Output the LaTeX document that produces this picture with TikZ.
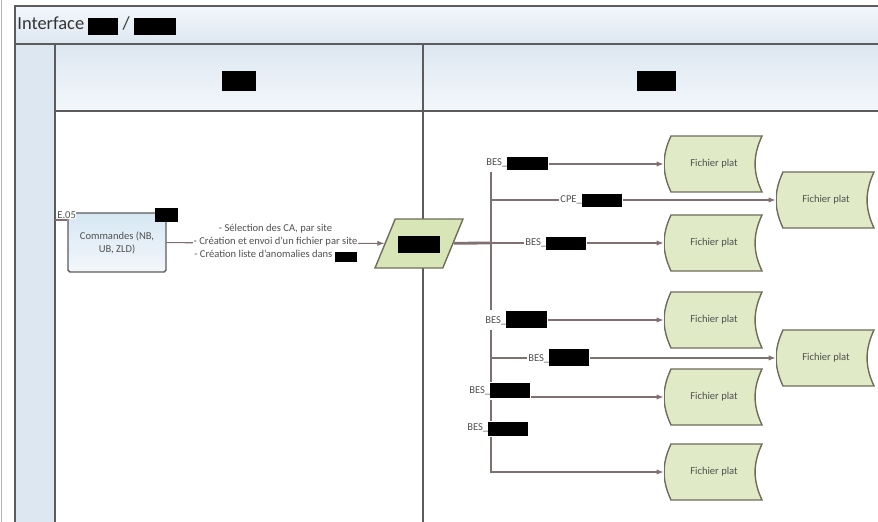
\documentclass[tikz,border=0pt]{standalone}
\usepackage{fontspec}
\setmainfont{Carlito}
\usetikzlibrary{arrows.meta, shapes.geometric, calc}
\definecolor{bordgris}{RGB}{92, 92, 92}
\definecolor{fondbleu}{RGB}{221, 231, 241}
\definecolor{fondclair}{RGB}{243, 247, 251}
\definecolor{bleutache}{RGB}{214, 231, 243}
\definecolor{vertfichier}{RGB}{225, 234, 198}
\definecolor{vertdonnee}{RGB}{216, 229, 182}
\definecolor{bordfichier}{RGB}{112, 108, 92}
\definecolor{lien}{RGB}{128, 112, 112}
\definecolor{textegris}{RGB}{80, 80, 80}
\newcommand{\masque}[2]{\textcolor{black}{\rule[-3pt]{#1}{#2}}}

\begin{document}
\begin{tikzpicture}[x=0.2mm, y=-0.2mm,
  petit/.style={font=\fontsize{6}{7.4}\selectfont, text=textegris},
  cadre/.style={draw=bordgris, line width=0.8pt},
  noir/.style={fill=black, inner sep=0pt},
  etiq/.style={petit, fill=white, inner sep=0.6pt},
  tache/.style={petit, draw=bordgris, line width=0.8pt, top color=bleutache, bottom color=fondclair, rounded corners=1pt, minimum width=19.6mm, minimum height=11.8mm, align=center},
  donnee/.style={trapezium, trapezium left angle=67, trapezium right angle=113, trapezium stretches=true, minimum width=17.6mm, minimum height=9.8mm, fill=vertdonnee, draw=bordfichier, line width=0.8pt},
  fichier/.style={petit, minimum width=20mm, minimum height=12mm, inner sep=0pt, path picture={
    \draw[fill=vertfichier, draw=bordfichier, line width=0.8pt]
      ($(path picture bounding box.north west)+(1.4mm,-0.4mm)$)
      to[bend right=25] ($(path picture bounding box.south west)+(1.4mm,0.4mm)$)
      -- ($(path picture bounding box.south east)+(-0.4mm,0.4mm)$)
      to[bend left=25] ($(path picture bounding box.north east)+(-0.4mm,-0.4mm)$)
      -- cycle;}},
  fil/.style={-{Latex[length=4pt, width=3pt]}, draw=lien, line width=0.6pt},
]
\useasboundingbox (0,0) rectangle (878,522);
\clip (0,0) rectangle (878,522);

% Pool and lanes
\shade[top color=fondclair, bottom color=fondbleu] (15,6) rectangle (878,44);
\fill[fondbleu] (15,44) rectangle (55,522);
\shade[top color=fondbleu, bottom color=fondclair] (55,44) rectangle (878,111);
\draw[gray!60] (1.5,0) -- (1.5,522);
\draw[cadre] (15,522) -- (15,6) -- (878,6);
\draw[cadre] (15,44) -- (878,44);
\draw[cadre] (55,44) -- (55,522);
\draw[cadre] (55,111) -- (878,111);
\draw[cadre] (423,44) -- (423,522);

% Titles
\node[anchor=west, font=\fontsize{10.5}{12}\selectfont, text=black!80, inner sep=0pt] (titre) at (17,26) {Interface \masque{6mm}{3.4mm} / \masque{8.4mm}{3.4mm}};
\node[noir, minimum width=6.8mm, minimum height=4mm] (lane1) at (239,81) {};
\node[noir, minimum width=7.8mm, minimum height=4mm] (lane2) at (656,81) {};

% Left lane
\node[tache] (cmd) at (117,242.5) {Commandes (NB,\\UB, ZLD)};
\node[noir, minimum width=4.6mm, minimum height=2.8mm] (mcmd) at (166.5,215) {};
\coordinate (e05) at (55,220);
\draw[lien, line width=0.6pt] (e05) -- (cmd.west |- e05);
\node[etiq, anchor=south west, inner sep=0.3pt] (le05) at (56.5,219) {E.05};

% Flat file
\node[donnee] (para) at (419,243.5) {};
\node[noir, minimum width=8.4mm, minimum height=3.4mm] (mpara) at (419,245) {};
\draw[fil] (cmd) -- (para) node[midway, etiq, align=center] (txt) {- Sélection des CA, par site\\- Création et envoi d'un fichier par site\\- Création liste d'anomalies dans \masque{4.4mm}{2mm}};

% Output files
\node[fichier] (f1) at (714,164) {Fichier plat};
\node[fichier] (f2) at (714,243) {Fichier plat};
\node[fichier] (f3) at (714,320) {Fichier plat};
\node[fichier] (f4) at (714,397) {Fichier plat};
\node[fichier] (f5) at (714,472) {Fichier plat};
\node[fichier] (f6) at (826,200) {Fichier plat};
\node[fichier] (f7) at (826,358) {Fichier plat};

% Bus
\coordinate (hub) at (491,243);
\draw[lien, line width=1.6pt] (para) -- (hub);
\draw[fil] (hub) |- (f1);
\draw[fil] (hub) |- (f6);
\draw[fil] (hub) -- (f2);
\draw[fil] (hub) |- (f3);
\draw[fil] (hub) |- (f7);
\draw[fil] (hub) |- (f4);
\draw[fil] (hub) |- (f5);

% Labels
\node[etiq, anchor=west] (l1) at (485,164) {BES\_\masque{8.2mm}{2.6mm}};
\node[etiq, anchor=west] (l2) at (559,201) {CPE\_\masque{8mm}{2.6mm}};
\node[etiq, anchor=west] (l3) at (524,244) {BES\_\masque{8mm}{2.6mm}};
\node[etiq, anchor=west] (l4) at (484,320) {BES\_\masque{8.2mm}{3.4mm}};
\node[etiq, anchor=west] (l5) at (527,358) {BES\_\masque{8mm}{3.4mm}};
\node[etiq, anchor=west] (l6) at (468,391) {BES\_\masque{8mm}{3mm}};
\node[etiq, anchor=west] (l7) at (466,429) {BES\_\masque{8mm}{2.8mm}};
\end{tikzpicture}
\end{document}
